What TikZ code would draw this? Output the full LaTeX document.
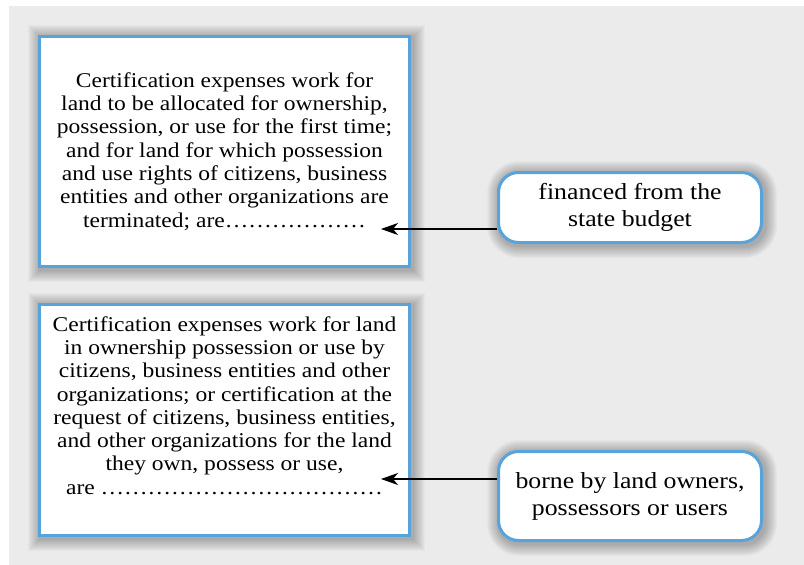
\documentclass[tikz,border=0pt]{standalone}
\usepackage{fontspec}
\setmainfont{Liberation Serif}[FakeStretch=1.12]
\usetikzlibrary{arrows.meta,positioning}
\definecolor{panelgray}{RGB}{235,235,235}
\definecolor{frameblue}{RGB}{88,163,218}
\pgfdeclarelayer{panel}
\pgfdeclarelayer{shade}
\pgfsetlayers{panel,shade,main}

\tikzset{
  textbox/.style={draw=frameblue, line width=3pt, fill=white, align=center,
    inner sep=0pt, minimum width=370pt, minimum height=230pt,
    font=\fontsize{21}{23.3}\selectfont},
  notebox/.style={textbox, rounded corners=20pt, minimum width=263pt, minimum height=70pt,
    font=\fontsize{23}{27}\selectfont},
  shadefill/.style={fill=black, opacity=0.022},
  pointer/.style={line width=1.2pt, -{Stealth[length=17pt,width=12pt,inset=5pt]}}
}

\begin{document}
\begin{tikzpicture}[x=1pt, y=-1pt]
  \useasboundingbox (0,0) rectangle (804,565);
  \begin{pgfonlayer}{panel}
    \fill[panelgray] (9,6) rectangle (804,565);
  \end{pgfonlayer}

  % left boxes
  \node[textbox] (first) at (224.5,151.5) {Certification expenses work for\\
    land to be allocated for ownership,\\
    possession, or use for the first time;\\
    and for land for which possession\\
    and use rights of citizens, business\\
    entities and other organizations are\\
    terminated; are………………};
  \node[textbox, minimum height=231pt] (second) at (224.5,420) {Certification expenses work for land\\
    in ownership possession or use by\\
    citizens, business entities and other\\
    organizations; or certification at the\\
    request of citizens, business entities,\\
    and other organizations for the land\\
    they own, possess or use,\\
    are ………………………………\\[6pt]};

  % right boxes
  \node[notebox] (budget) at (630,207.5) {financed from the\\ state budget};
  \node[notebox, minimum height=89pt] (owners) at (630,496) {borne by land owners,\\ possessors or users};

  % soft shadows
  \begin{pgfonlayer}{shade}
    \foreach \n in {first,second}
      \foreach \s in {1,...,12}
        \fill[shadefill] ([xshift=-\s pt+2pt, yshift=\s pt-2pt]\n.north west)
          rectangle ([xshift=\s pt+2pt, yshift=-\s pt-2pt]\n.south east);
    \foreach \n in {budget,owners}
      \foreach \s in {1,...,12}
        \fill[shadefill, rounded corners=20pt+\s pt] ([xshift=-\s pt+2pt, yshift=\s pt-2pt]\n.north west)
          rectangle ([xshift=\s pt+2pt, yshift=-\s pt-2pt]\n.south east);
  \end{pgfonlayer}

  % arrows
  \coordinate (end1) at (381,229);
  \coordinate (end2) at (381,479);
  \draw[pointer] (budget.west |- end1) -- (end1);
  \draw[pointer] (owners.west |- end2) -- (end2);
\end{tikzpicture}
\end{document}
